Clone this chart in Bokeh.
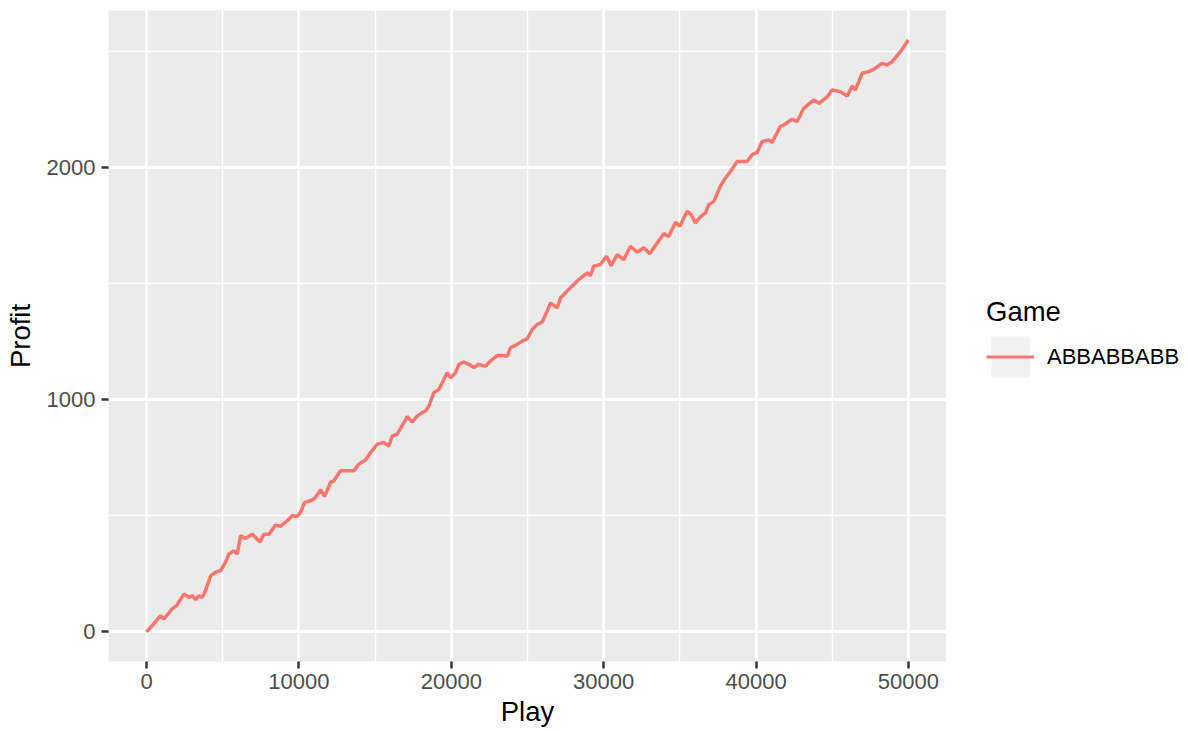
from bokeh.plotting import figure
from bokeh.layouts import row
from bokeh.models import (SingleIntervalTicker, Legend, LegendItem, ColumnDataSource,
                          Range1d, BasicTickFormatter)
from bokeh.embed import file_html
from bokeh.resources import INLINE

# ---- data ----
play = [0, 370, 920, 1140, 1680, 1970, 2450, 2780, 3000, 3220, 3430, 3650, 3870,
        4200, 4530, 4860, 5180, 5400, 5730, 5950, 6170, 6500, 6940, 7150, 7440,
        7700, 8030, 8460, 8790, 9230, 9560, 9890, 10100, 10370, 10760, 11020,
        11420, 11680, 12070, 12290, 12730, 13170, 13600, 13930, 14370, 14700,
        15140, 15570, 15900, 16120, 16450, 16890, 17110, 17430, 17760, 18090,
        18310, 18530, 18850, 19190, 19510, 19730, 19950, 20280, 20500, 20820,
        21150, 21480, 21800, 22240, 22570, 23010, 23450, 23670, 23880, 24320,
        24650, 24980, 25310, 25640, 25960, 26290, 26510, 26950, 27170, 27820,
        28370, 28920, 29130, 29350, 29790, 30180, 30490, 30890, 31320, 31760,
        32200, 32630, 33030, 33510, 33940, 34270, 34710, 34990, 35480, 35740,
        36020, 36350, 36680, 36900, 37230, 37660, 37990, 38320, 38760, 39410,
        39740, 40070, 40400, 40830, 41050, 41600, 41820, 42370, 42700, 43130,
        43790, 44120, 44660, 44990, 45540, 45980, 46310, 46520, 46960, 47390,
        47720, 48270, 48600, 48930, 49480, 50000]
profit = [0, 27, 70, 56, 99, 113, 163, 149, 156, 139, 156, 149, 178,
          242, 257, 264, 300, 335, 350, 335, 414, 403, 421, 407, 388,
          421, 421, 460, 455, 479, 500, 498, 515, 558, 565, 575,
          612, 584, 644, 651, 694, 694, 694, 723, 741, 773,
          809, 816, 801, 844, 852, 902, 928, 904, 930, 945,
          952, 973, 1031, 1045, 1088, 1117, 1095, 1117, 1153, 1163,
          1153, 1139, 1153, 1145, 1167, 1191, 1191, 1188, 1224, 1239,
          1253, 1263, 1303, 1325, 1335, 1382, 1418, 1396, 1440, 1483,
          1518, 1547, 1535, 1576, 1583, 1619, 1578, 1626, 1604, 1662,
          1636, 1655, 1630, 1676, 1716, 1704, 1765, 1748, 1812, 1798,
          1762, 1788, 1805, 1841, 1855, 1920, 1956, 1984, 2027, 2027,
          2056, 2066, 2113, 2120, 2109, 2178, 2184, 2209, 2199, 2256,
          2292, 2278, 2304, 2335, 2328, 2309, 2352, 2335, 2407, 2414,
          2424, 2450, 2443, 2457, 2500, 2550]
series_name = "ABBABBABB"
legend_title = "Game"
x_label = "Play"
y_label = "Profit"

FONT = "Liberation Sans"
LINE_COLOR = "#F8766D"
LINE_WIDTH = 3.5

src = ColumnDataSource(dict(play=play, profit=profit))

xr = Range1d(-2500, 52500)
yr = Range1d(-127.5, 2677.5)

p = figure(width=946, height=731, output_backend="svg", toolbar_location=None,
           x_range=xr, y_range=yr,
           min_border_left=108, min_border_right=0, min_border_top=10,
           min_border_bottom=70)
p.background_fill_color = "#EBEBEB"
p.border_fill_color = "white"
p.outline_line_color = None

p.xaxis.ticker = SingleIntervalTicker(interval=10000, num_minor_ticks=2)
p.yaxis.ticker = SingleIntervalTicker(interval=1000, num_minor_ticks=2)
p.xaxis.formatter = BasicTickFormatter(use_scientific=False)
p.yaxis.formatter = BasicTickFormatter(use_scientific=False)

for ax in (p.xaxis[0], p.yaxis[0]):
    ax.axis_line_color = None
    ax.major_tick_line_color = "#333333"
    ax.major_tick_line_width = 2.5
    ax.major_tick_out = 7
    ax.major_tick_in = 0
    ax.minor_tick_line_color = None
    ax.major_label_text_font = FONT
    ax.major_label_text_font_size = "22px"
    ax.major_label_text_color = "#4D4D4D"
    ax.axis_label_text_font = FONT
    ax.axis_label_text_font_size = "27.5px"
    ax.axis_label_text_color = "black"
    ax.axis_label_text_font_style = "normal"

p.xaxis.axis_label = x_label
p.yaxis.axis_label = y_label
p.xaxis.major_label_standoff = 5
p.xaxis.axis_label_standoff = 4
p.yaxis.major_label_standoff = 6
p.yaxis.axis_label_standoff = 8

for g in (p.xgrid[0], p.ygrid[0]):
    g.grid_line_color = "white"
    g.grid_line_width = 2.8
    g.minor_grid_line_color = "white"
    g.minor_grid_line_width = 1.4

p.line("play", "profit", source=src, line_color=LINE_COLOR, line_width=LINE_WIDTH)

# ---- legend panel (separate figure at the right; its frame aligns with the main one) ----
lg = figure(width=242, height=731, output_backend="svg", toolbar_location=None,
            x_range=Range1d(-2, -1), y_range=Range1d(-2, -1),
            x_axis_type=None, y_axis_type=None,
            min_border_left=0, min_border_right=0, min_border_top=0, min_border_bottom=0)
lg.grid.visible = False
lg.outline_line_color = None
lg.background_fill_color = "white"
lg.border_fill_color = "white"

# legend key renderers reuse the series data; the ranges keep them off-screen
key_r = lg.quad(left="play", right="play", top="profit", bottom="profit", source=src,
                fill_color="#F2F2F2", line_color=None)
line_key = lg.line("play", "profit", source=src, line_color=LINE_COLOR, line_width=3)

legend = Legend(items=[LegendItem(label=series_name, renderers=[key_r, line_key])],
                title=legend_title, location=(40, 279),
                glyph_width=48, glyph_height=51, label_standoff=13,
                padding=0, margin=0, spacing=0,
                border_line_color=None, background_fill_alpha=0,
                title_text_font=FONT, title_text_font_size="27.5px",
                title_text_font_style="normal", title_text_color="black",
                title_standoff=3,
                label_text_font=FONT, label_text_font_size="22px",
                label_text_color="black")
lg.add_layout(legend, "center")

layout = row(p, lg)
open("out.html", "w").write(file_html(layout, INLINE))
